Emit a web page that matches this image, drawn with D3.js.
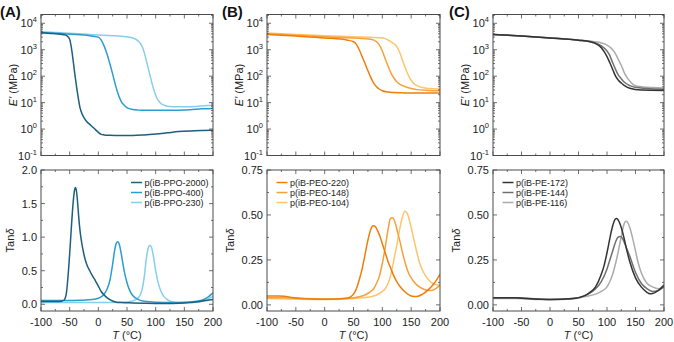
<!DOCTYPE html>
<html><head><meta charset="utf-8">
<script src="https://cdn.jsdelivr.net/npm/d3@7"></script>
<style>body{margin:0;background:#fff}svg{display:block}text{font-family:"Liberation Sans",Arial,sans-serif}</style>
</head><body><svg id="c" width="674" height="342"></svg>
<script>
// ---------------- DATA ----------------
// Panel A: p(iB-PPO-x)
const seriesA = ["p(iB-PPO-2000)", "p(iB-PPO-400)", "p(iB-PPO-230)"];
const colorsA = ["#1d5f7d", "#2b9dd0", "#86cfea"];
const eA_T = [
  [-100,-80,-60,-55,-50,-47,-44,-41,-38,-35,-32,-28,-24,-20,-15,-10,-5,0,5,10,20,40,60,80,100,120,140,160,180,200],
  [-100,-60,-20,0,5,10,15,20,25,30,35,40,45,50,60,70,80,100,120,140,160,180,200],
  [-100,-50,0,50,65,72,78,82,86,90,94,98,102,106,110,115,120,130,150,170,190,200]
];
const eA_V = [
  [4400,4100,3700,3400,2500,1200,400,120,40,15,6.5,3.6,2.5,1.9,1.5,1.2,0.95,0.75,0.63,0.6,0.58,0.57,0.57,0.6,0.65,0.72,0.8,0.85,0.88,0.9],
  [4500,4000,3500,3000,2300,1400,700,300,120,45,20,11,8,6.5,5.5,5.2,5.1,5.1,5.1,5.2,5.4,5.8,6.0],
  [4800,4200,3600,3100,2500,1900,1100,550,250,110,50,25,15,11,9,8,7.3,7,7,7.2,7.8,8]
];
const tA_T = [
  [-100,-80,-70,-65,-60,-56,-53,-50,-47,-45,-43,-41,-40,-38,-36,-34,-32,-30,-27,-24,-20,-15,-10,-5,0,5,10,15,20,30,40,60,80,100,120,140,160,180,200],
  [-100,-60,-30,-10,0,5,10,15,20,25,28,31,34,37,40,45,50,55,60,70,80,100,130,160,180,190,200],
  [-100,-50,0,40,60,70,75,80,84,88,90,93,96,100,105,110,115,120,130,140,160,180,190,200]
];
const tA_V = [
  [0.04,0.04,0.04,0.045,0.06,0.15,0.4,0.75,1.15,1.4,1.6,1.72,1.74,1.68,1.5,1.28,1.1,0.97,0.82,0.7,0.59,0.5,0.42,0.35,0.27,0.19,0.14,0.1,0.07,0.035,0.025,0.02,0.015,0.012,0.012,0.015,0.025,0.045,0.07],
  [0.055,0.055,0.06,0.07,0.09,0.11,0.15,0.22,0.35,0.6,0.78,0.9,0.93,0.88,0.75,0.5,0.32,0.2,0.13,0.07,0.045,0.03,0.025,0.035,0.06,0.1,0.17],
  [0.025,0.025,0.025,0.03,0.05,0.1,0.18,0.4,0.7,0.86,0.88,0.84,0.72,0.5,0.3,0.18,0.11,0.07,0.035,0.025,0.025,0.04,0.07,0.12]
];

// Panel B: p(iB-PEO-x)
const seriesB = ["p(iB-PEO-220)", "p(iB-PEO-148)", "p(iB-PEO-104)"];
const colorsB = ["#f07d0a", "#f7a13a", "#fcc56c"];
const eB_T = [
  [-100,-50,0,40,50,55,60,65,70,75,80,85,90,95,100,110,120,140,170,200],
  [-100,-50,0,50,80,90,95,100,105,110,115,120,125,130,140,150,160,180,200],
  [-100,-50,0,50,100,115,125,130,135,140,145,150,155,160,170,180,200]
];
const eB_V = [
  [3800,3300,2800,2300,2000,1600,1000,550,300,160,90,55,40,32,28,25,24,23,23,23],
  [4000,3500,3100,2800,2500,2000,1500,900,450,240,130,85,62,50,40,34,31,29,28],
  [4300,3800,3400,3100,2800,2000,1300,800,400,200,110,70,52,44,37,34,33]
];
const tB_T = [
  [-100,-90,-80,-70,-60,-40,-20,0,20,40,45,50,55,60,65,70,75,80,84,88,92,96,100,105,110,115,120,125,130,140,150,160,170,180,190,200],
  [-100,-70,-40,0,40,60,70,80,85,90,95,100,105,110,114,118,122,126,130,135,140,145,150,160,170,180,185,190,200],
  [-100,-50,0,50,80,90,100,105,110,115,120,125,130,135,139,143,147,150,155,160,165,170,180,190,200]
];
const tB_V = [
  [0.05,0.05,0.05,0.048,0.042,0.036,0.033,0.032,0.033,0.038,0.045,0.06,0.09,0.14,0.2,0.28,0.36,0.42,0.44,0.435,0.41,0.38,0.34,0.29,0.24,0.2,0.16,0.13,0.105,0.07,0.05,0.047,0.06,0.085,0.12,0.17],
  [0.04,0.04,0.035,0.033,0.036,0.045,0.055,0.075,0.09,0.12,0.16,0.23,0.32,0.42,0.48,0.485,0.46,0.41,0.36,0.29,0.23,0.18,0.15,0.11,0.09,0.08,0.08,0.085,0.11],
  [0.035,0.032,0.03,0.036,0.045,0.055,0.075,0.09,0.12,0.17,0.25,0.33,0.42,0.49,0.52,0.51,0.47,0.43,0.36,0.29,0.23,0.19,0.14,0.115,0.11]
];

// Panel C: p(iB-PE-x)
const seriesC = ["p(iB-PE-172)", "p(iB-PE-144)", "p(iB-PE-116)"];
const colorsC = ["#333333", "#707070", "#ababab"];
const eC_T = [
  [-100,-50,0,50,70,80,90,95,100,105,110,115,120,125,130,140,160,200],
  [-100,-50,0,50,70,80,90,100,105,110,115,120,125,130,140,150,170,200],
  [-100,-50,0,50,70,80,90,100,110,115,120,125,130,135,140,145,150,160,180,200]
];
const eC_V = [
  [3800,3300,2800,2300,2000,1700,1200,850,550,320,180,100,70,55,45,35,30,29],
  [3800,3300,2800,2300,2050,1800,1400,900,600,320,180,110,80,60,44,38,34,32],
  [3800,3300,2800,2350,2150,2000,1800,1500,1000,700,420,260,140,90,65,50,44,40,37,36]
];
const tC_T = [
  [-100,-80,-60,-40,0,40,60,70,80,90,95,100,105,110,114,117,120,125,130,135,140,150,160,170,175,180,190,200],
  [-100,-60,-20,0,40,60,70,80,90,100,105,110,115,119,123,127,130,135,140,150,160,170,180,190,200],
  [-100,-60,-20,0,40,60,80,90,100,105,110,115,120,125,130,133,136,140,145,150,155,160,170,180,190,200]
];
const tC_V = [
  [0.04,0.04,0.04,0.035,0.03,0.035,0.05,0.07,0.1,0.17,0.22,0.29,0.37,0.44,0.475,0.48,0.47,0.43,0.37,0.3,0.24,0.15,0.1,0.07,0.062,0.063,0.08,0.11],
  [0.04,0.04,0.033,0.03,0.035,0.05,0.065,0.09,0.13,0.2,0.25,0.3,0.35,0.375,0.38,0.37,0.35,0.31,0.27,0.18,0.12,0.09,0.075,0.08,0.1],
  [0.035,0.035,0.03,0.03,0.033,0.045,0.06,0.075,0.1,0.13,0.17,0.23,0.3,0.38,0.45,0.465,0.46,0.43,0.37,0.3,0.23,0.18,0.12,0.1,0.09,0.1]
];

const xTicks = [-100,-50,0,50,100,150,200];
const eTicks = [0.1,1,10,100,1000,10000];
const tanTicksA = [0.0,0.5,1.0,1.5,2.0];
const tanTicksBC = [0.00,0.25,0.50,0.75];
const panelLetters = ["(A)","(B)","(C)"];

// ---------------- DRAW ----------------
const svg = d3.select("#c");
const AX = "#4a4a4a";
const topY = [14.5, 155.5], botY = [170, 311];
const cols = [[41,213],[267,440],[493,664]];

const panels = [
  {names:seriesA, colors:colorsA, eT:eA_T, eV:eA_V, tT:tA_T, tV:tA_V, tanDom:[-0.1,2.0], tanTicks:tanTicksA, tanMinor:0.25, fmt:d3.format(".1f"), tanOff:27, letterX:0},
  {names:seriesB, colors:colorsB, eT:eB_T, eV:eB_V, tT:tB_T, tV:tB_V, tanDom:[-0.034,0.75], tanTicks:tanTicksBC, tanMinor:0.125, fmt:d3.format(".2f"), tanOff:33, letterX:222},
  {names:seriesC, colors:colorsC, eT:eC_T, eV:eC_V, tT:tC_T, tV:tC_V, tanDom:[-0.034,0.75], tanTicks:tanTicksBC, tanMinor:0.125, fmt:d3.format(".2f"), tanOff:33, letterX:449}
];

function frame(g, x, y, yTicks, yMinor, yFmt, isLog, showX){
  const [x0,x1] = x.range(), [y1,y0] = y.range();
  g.append("rect").attr("x",x0).attr("y",y0).attr("width",x1-x0).attr("height",y1-y0)
    .attr("fill","none").attr("stroke",AX).attr("stroke-width",1);
  const xMinor = d3.range(-100,201,25).filter(v=>v%50!==0);
  const t = g.append("g").attr("stroke",AX).attr("stroke-width",0.8);
  xTicks.forEach(v=>{const px=x(v);
    t.append("line").attr("x1",px).attr("x2",px).attr("y1",y1).attr("y2",y1-4);
    t.append("line").attr("x1",px).attr("x2",px).attr("y1",y0).attr("y2",y0+4);});
  xMinor.forEach(v=>{const px=x(v);
    t.append("line").attr("x1",px).attr("x2",px).attr("y1",y1).attr("y2",y1-2);
    t.append("line").attr("x1",px).attr("x2",px).attr("y1",y0).attr("y2",y0+2);});
  yTicks.forEach(v=>{const py=y(v);
    t.append("line").attr("x1",x0).attr("x2",x0+4).attr("y1",py).attr("y2",py);
    t.append("line").attr("x1",x1).attr("x2",x1-4).attr("y1",py).attr("y2",py);});
  yMinor.forEach(v=>{const py=y(v); if(py<y0||py>y1) return;
    t.append("line").attr("x1",x0).attr("x2",x0+2).attr("y1",py).attr("y2",py);
    t.append("line").attr("x1",x1).attr("x2",x1-2).attr("y1",py).attr("y2",py);});
  yTicks.forEach(v=>{
    const tx = g.append("text").attr("x",x0-4).attr("y",y(v)+4).attr("text-anchor","end")
      .attr("font-size",11).attr("fill","#222");
    if(isLog){
      const e = Math.round(Math.log10(v));
      tx.append("tspan").text("10");
      tx.append("tspan").attr("dy",-5).attr("font-size",7.5).text(String(e));
    } else tx.text(yFmt(v));
  });
  if(showX){
    xTicks.forEach(v=>{
      g.append("text").attr("x",x(v)).attr("y",y1+15).attr("text-anchor","middle")
        .attr("font-size",11).attr("fill","#222").text(v);
    });
  }
}

panels.forEach((p,i)=>{
  const g = svg.append("g");
  const x = d3.scaleLinear().domain([-100,200]).range(cols[i]);
  const yE = d3.scaleLog().domain([0.1,21500]).range([topY[1],topY[0]]);
  const yT = d3.scaleLinear().domain(p.tanDom).range([botY[1],botY[0]]);
  const cid = "clip"+i;
  const defs = svg.append("defs");
  defs.append("clipPath").attr("id",cid+"t").append("rect").attr("x",cols[i][0]).attr("y",topY[0]).attr("width",cols[i][1]-cols[i][0]).attr("height",topY[1]-topY[0]);
  defs.append("clipPath").attr("id",cid+"b").append("rect").attr("x",cols[i][0]).attr("y",botY[0]).attr("width",cols[i][1]-cols[i][0]).attr("height",botY[1]-botY[0]);

  const eMinor = [];
  [0.1,1,10,100,1000,10000].forEach(d=>{for(let k=2;k<=9;k++) eMinor.push(d*k);});
  const tMinor = d3.range(0, p.tanDom[1]+1e-9, p.tanMinor).filter(v=>!p.tanTicks.some(t=>Math.abs(t-v)<1e-9));

  const lineE = d3.line().x(d=>x(d[0])).y(d=>yE(d[1])).curve(d3.curveMonotoneX);
  const lineT = d3.line().x(d=>x(d[0])).y(d=>yT(d[1])).curve(d3.curveMonotoneX);

  const gl = g.append("g").attr("clip-path",`url(#${cid}t)`);
  const gb = g.append("g").attr("clip-path",`url(#${cid}b)`);
  for(let s=2;s>=0;s--){
    gl.append("path").attr("d",lineE(d3.zip(p.eT[s],p.eV[s]))).attr("fill","none")
      .attr("stroke",p.colors[s]).attr("stroke-width",1.5);
    gb.append("path").attr("d",lineT(d3.zip(p.tT[s],p.tV[s]))).attr("fill","none")
      .attr("stroke",p.colors[s]).attr("stroke-width",1.5);
  }
  frame(g, x, yE, eTicks, eMinor, null, true, false);
  frame(g, x, yT, p.tanTicks, tMinor, p.fmt, false, true);

  const x0 = cols[i][0];
  const eLab = g.append("text").attr("transform",`translate(${x0-24},${(topY[0]+topY[1])/2}) rotate(-90)`)
    .attr("text-anchor","middle").attr("font-size",11).attr("fill","#222");
  eLab.append("tspan").attr("font-style","italic").text("E\u2032");
  eLab.append("tspan").text(" (MPa)");
  const tLab = g.append("text").attr("transform",`translate(${x0-p.tanOff},${(botY[0]+botY[1])/2}) rotate(-90)`)
    .attr("text-anchor","middle").attr("font-size",11).attr("fill","#222");
  tLab.append("tspan").text("Tan");
  tLab.append("tspan").attr("font-style","italic").text("\u03b4");
  const xl = g.append("text").attr("x",(cols[i][0]+cols[i][1])/2).attr("y",339)
    .attr("text-anchor","middle").attr("font-size",11).attr("fill","#222");
  xl.append("tspan").attr("font-style","italic").text("T");
  xl.append("tspan").text(" (\u00b0C)");

  g.append("text").attr("x",p.letterX).attr("y",17).attr("font-size",15).attr("font-weight","bold")
    .attr("fill","#111").text(panelLetters[i]);

  const lx = i===0 ? 131 : cols[i][0]+9.5;
  p.names.forEach((n,s)=>{
    const ly = 182.5 + s*10;
    g.append("line").attr("x1",lx).attr("x2",lx+11).attr("y1",ly).attr("y2",ly)
      .attr("stroke",p.colors[s]).attr("stroke-width",1.5);
    g.append("text").attr("x",lx+13.5).attr("y",ly+3.2).attr("font-size",9).attr("fill","#222").text(n);
  });
});
</script></body></html>
